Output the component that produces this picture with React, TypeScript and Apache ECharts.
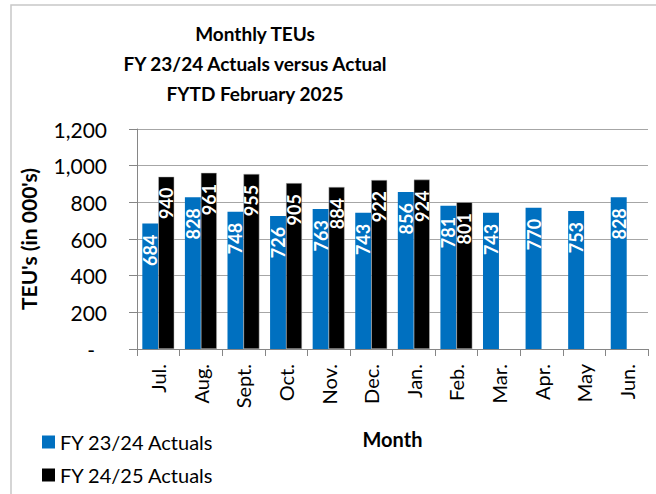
import React, { useEffect, useRef } from "react";
import * as echarts from "echarts";

const titleLines = ["Monthly TEUs", "FY 23/24 Actuals versus Actual", "FYTD February 2025"];
const months = ["Jul.", "Aug.", "Sept.", "Oct.", "Nov.", "Dec.", "Jan.", "Feb.", "Mar.", "Apr.", "May", "Jun."];
const fy2324 = [684, 828, 748, 726, 763, 743, 856, 781, 743, 770, 753, 828];
const fy2425: (number | null)[] = [940, 961, 955, 905, 884, 922, 924, 801, null, null, null, null];
const seriesNames = ["FY 23/24 Actuals", "FY 24/25 Actuals"];
const yMin = 0;
const yMax = 1200;
const yInterval = 200;

const FONT = "Lato, 'Open Sans', sans-serif";

export default function App() {
  const ref = useRef<HTMLDivElement>(null);
  useEffect(() => {
    if (!ref.current) return;
    const chart = echarts.init(ref.current, null, { renderer: "svg" });
    const label = {
      show: true,
      position: "insideTop",
      rotate: 90,
      align: "right",
      verticalAlign: "middle",
      distance: 11,
      color: "#ffffff",
      fontFamily: FONT,
      fontWeight: "bold",
      fontSize: 18,
    };
    chart.setOption({
      animation: false,
      backgroundColor: "#ffffff",
      textStyle: { fontFamily: FONT },
      title: {
        text: titleLines.join("\n"),
        left: 250,
        textAlign: "center",
        top: 13,
        textStyle: { fontFamily: FONT, fontWeight: "bold", fontSize: 19, lineHeight: 30, color: "#000" },
      },
      graphic: [
        {
          type: "rect",
          shape: { x: 11, y: 5, width: 800, height: 700 },
          style: { fill: "none", stroke: "#c8c8c8", lineWidth: 1.5 },
          silent: true,
          z: -1,
        },
      ],
      legend: {
        orient: "vertical",
        left: 37,
        top: 427,
        height: 90,
        itemWidth: 13,
        itemHeight: 13,
        itemGap: 13,
        icon: "rect",
        itemStyle: { borderWidth: 0 },
        data: seriesNames,
        textStyle: { fontFamily: FONT, fontSize: 20, color: "#000", padding: [0, 0, 0, 0], lineHeight: 20 },
      },
      grid: { left: 137, top: 129, right: 8, bottom: 145, containLabel: false },
      xAxis: {
        type: "category",
        data: months,
        name: "Month",
        nameLocation: "middle",
        nameGap: 80,
        nameTextStyle: { fontFamily: FONT, fontWeight: "bold", fontSize: 20, color: "#000" },
        axisLine: { show: true, lineStyle: { color: "#868686", width: 1 } },
        axisTick: { show: true, length: 7, lineStyle: { color: "#868686" } },
        axisLabel: { rotate: 90, margin: 15, fontFamily: FONT, fontSize: 20, color: "#000" },
      },
      yAxis: {
        type: "value",
        min: yMin,
        max: yMax,
        interval: yInterval,
        name: "TEU's (in 000's)",
        nameLocation: "middle",
        nameGap: 98,
        nameTextStyle: { fontFamily: FONT, fontWeight: "bold", fontSize: 21, color: "#000" },
        axisLine: { show: true, lineStyle: { color: "#868686", width: 1 } },
        axisTick: { show: true, length: 8, inside: false, lineStyle: { color: "#868686" } },
        splitLine: { show: true, lineStyle: { color: "#a6a6a6", width: 1 } },
        axisLabel: {
          margin: 30,
          fontFamily: FONT,
          fontSize: 21,
          color: "#000",
          formatter: (v: number) => (v === 0 ? "{d|-}" : v.toLocaleString("en-US")),
          rich: { d: { fontFamily: FONT, fontSize: 21, color: "#000", padding: [0, 12, 0, 0] } },
        },
      },
      series: [
        {
          name: seriesNames[0],
          type: "bar",
          data: fy2324,
          barGap: "0%",
          barCategoryGap: "25%",
          itemStyle: { color: "#0070C0" },
          label,
        },
        {
          name: seriesNames[1],
          type: "bar",
          data: fy2425,
          barGap: "0%",
          barCategoryGap: "25%",
          itemStyle: { color: "#000000", borderColor: "#bfbfbf", borderWidth: 0.5 },
          label,
        },
      ],
    });
    return () => chart.dispose();
  }, []);
  return (
    <div
      ref={ref}
      style={{ position: "fixed", left: 0, top: 0, width: 656, height: 494, background: "#fff" }}
    />
  );
}
